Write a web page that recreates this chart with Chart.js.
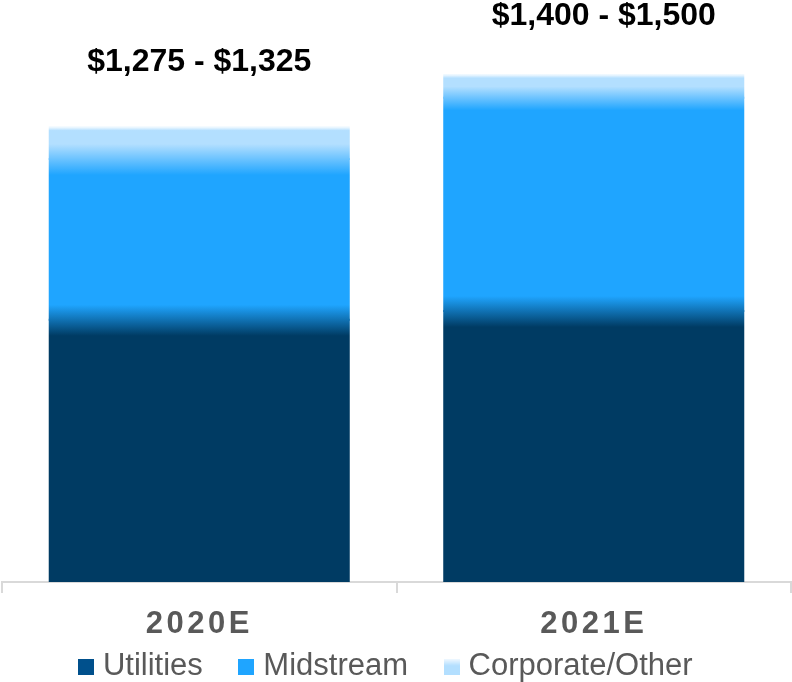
<!DOCTYPE html>
<html><head><meta charset="utf-8">
<script src="https://cdn.jsdelivr.net/npm/chart.js@4/dist/chart.umd.min.js"></script>
<style>html,body{margin:0;padding:0;background:#fff;overflow:hidden;} #wrap{position:relative;width:792px;height:692px;}</style>
</head><body><div id="wrap"><canvas id="c"></canvas></div>
<script>
const categories = ['2020E', '2021E'];
const utilities = [750, 775];
const midstream = [460, 610];
const corporateOther = [90, 65];
const rangeLabels = ['$1,275 - $1,325', '$1,400 - $1,500'];
const seriesNames = ['Utilities', 'Midstream', 'Corporate/Other'];

const FONT = "'Liberation Sans', Arial, sans-serif";
const COLORS = { dark: '#003b63', mid: '#1fa5ff', light: '#b3dfff', pale: '#e9f6ff' };
const FADE = 15;

function barGradient(ctx) {
  const chart = ctx.chart;
  const i = ctx.dataIndex;
  if (i === undefined || !chart.chartArea || !chart.scales.y) return COLORS.mid;
  const y = chart.scales.y;
  const b1 = utilities[i];
  const b2 = b1 + midstream[i];
  const tot = b2 + corporateOther[i];
  const p0 = y.getPixelForValue(0), p1 = y.getPixelForValue(b1),
        p2 = y.getPixelForValue(b2), pt = y.getPixelForValue(tot);
  if (![p0, p1, p2, pt].every(Number.isFinite) || p0 <= pt) return COLORS.mid;
  const H = p0 - pt;
  const s = px => Math.min(1, Math.max(0, (px - pt) / H));
  const fTop = Math.min(FADE, (p2 - pt) / 2);
  const g = chart.ctx.createLinearGradient(0, pt, 0, p0);
  g.addColorStop(0, COLORS.pale);
  g.addColorStop(s(pt + 3), COLORS.light);
  g.addColorStop(s(p2 - fTop), COLORS.light);
  g.addColorStop(s(p2 + fTop + 1), COLORS.mid);
  g.addColorStop(s(p1 - FADE), COLORS.mid);
  g.addColorStop(s(p1 + FADE + 1), COLORS.dark);
  g.addColorStop(1, COLORS.dark);
  return g;
}

function legendMarker(fill) {
  const c = document.createElement('canvas');
  c.width = 16; c.height = 16;
  const x = c.getContext('2d');
  if (fill === 'corp') {
    const g = x.createLinearGradient(0, 0, 0, 16);
    g.addColorStop(0, '#f4faff');
    g.addColorStop(0.45, '#b3dfff');
    g.addColorStop(1, '#b3dfff');
    x.fillStyle = g;
  } else {
    x.fillStyle = fill;
  }
  x.fillRect(0, 0, 16, 16);
  return c;
}
const LEGEND_MARKERS = [legendMarker('#00508c'), legendMarker('#1fa5ff'), legendMarker('corp')];

const textPlugin = {
  id: 'textPlugin',
  afterLayout(chart) {
    const xs = chart.scales.x;
    xs.bottom = chart.height;
    xs.height = xs.bottom - xs.top;
  },
  afterDatasetsDraw(chart) { chart.ctx.letterSpacing = '3.5px'; },
  afterDraw(chart, args, opts) {
    const ctx = chart.ctx;
    ctx.letterSpacing = '0px';
    const meta = chart.getDatasetMeta(chart.data.datasets.length - 1);
    ctx.save();
    ctx.font = 'bold 32px ' + FONT;
    ctx.fillStyle = '#000';
    ctx.textAlign = 'center';
    ctx.textBaseline = 'middle';
    meta.data.forEach((el, i) => {
      const off = opts.offsets[i] || {dx: 0, dy: -62};
      ctx.fillText(rangeLabels[i], el.x + off.dx, el.y + off.dy);
    });
    ctx.restore();
  }
};

new Chart(document.getElementById('c'), {
  type: 'bar',
  data: {
    labels: categories,
    datasets: [
      { label: seriesNames[0], data: utilities, backgroundColor: barGradient, borderWidth: 0 },
      { label: seriesNames[1], data: midstream, backgroundColor: barGradient, borderWidth: 0 },
      { label: seriesNames[2], data: corporateOther, backgroundColor: barGradient, borderWidth: 0 }
    ]
  },
  options: {
    responsive: true,
    maintainAspectRatio: false,
    devicePixelRatio: 1,
    animation: false,
    layout: { padding: { left: -14, right: 1, top: 0, bottom: 0 } },
    datasets: { bar: { categoryPercentage: 1, barPercentage: 0.758, inflateAmount: 1 } },
    scales: {
      x: {
        stacked: true,
        grid: { offset: true, drawOnChartArea: false, drawTicks: true, tickLength: 11, color: '#d9d9d9', lineWidth: 2 },
        border: { display: true, color: '#d9d9d9', width: 2 },
        ticks: { color: '#595959', font: { family: FONT, size: 31, weight: 'bold' }, padding: 13, z: 1 },
        afterFit(scale) { scale.height = 27; }
      },
      y: {
        stacked: true, display: false, min: 0, max: 1665,
        afterFit(scale) { scale.width = 16; }
      }
    },
    plugins: {
      legend: {
        position: 'bottom',
        labels: {
          usePointStyle: true, pointStyleWidth: 3, boxHeight: 16,
          padding: 42, color: '#595959',
          font: { family: FONT, size: 31 },
          generateLabels(chart) {
            return chart.data.datasets.map((ds, i) => ({
              text: ds.label, pointStyle: LEGEND_MARKERS[i], fillStyle: '#000',
              strokeStyle: 'rgba(0,0,0,0)', lineWidth: 0, hidden: false,
              datasetIndex: i, fontColor: '#595959'
            }));
          }
        }
      },
      tooltip: { enabled: false },
      textPlugin: { offsets: [{ dx: 0, dy: -65 }, { dx: 10, dy: -59 }] }
    }
  },
  plugins: [textPlugin]
});
</script>
</body></html>
